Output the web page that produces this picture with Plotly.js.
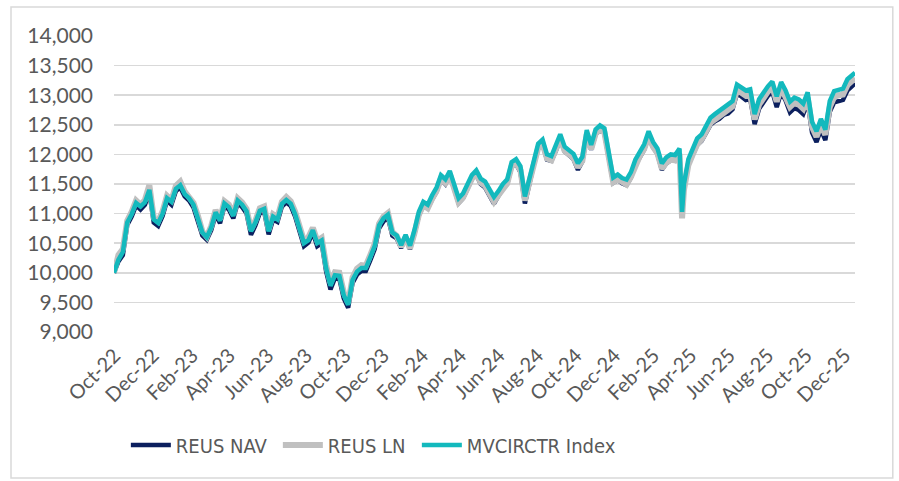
<!DOCTYPE html>
<html>
<head>
<meta charset="utf-8">
<script src="https://cdn.plot.ly/plotly-3.0.1.min.js"></script>
<style>
html,body{margin:0;padding:0;background:#fff;}
#chart{width:899px;height:481px;}
</style>
</head>
<body>
<div id="chart"></div>
<script>
var dates = [
"2022-09-30","2022-10-07","2022-10-14","2022-10-21","2022-10-28","2022-11-04","2022-11-11","2022-11-18","2022-11-25","2022-12-02",
"2022-12-09","2022-12-16","2022-12-23","2022-12-30","2023-01-06","2023-01-13","2023-01-20","2023-01-27","2023-02-03","2023-02-10",
"2023-02-17","2023-02-24","2023-03-03","2023-03-10","2023-03-17","2023-03-24","2023-03-31","2023-04-07","2023-04-14","2023-04-21",
"2023-04-28","2023-05-05","2023-05-12","2023-05-19","2023-05-26","2023-06-02","2023-06-09","2023-06-16","2023-06-23","2023-06-30",
"2023-07-07","2023-07-14","2023-07-21","2023-07-28","2023-08-04","2023-08-11","2023-08-18","2023-08-25","2023-09-01","2023-09-08",
"2023-09-15","2023-09-22","2023-09-29","2023-10-06","2023-10-13","2023-10-20","2023-10-27","2023-11-03","2023-11-10","2023-11-17",
"2023-11-24","2023-12-01","2023-12-08","2023-12-15","2023-12-22","2023-12-29","2024-01-05","2024-01-12","2024-01-19","2024-01-26",
"2024-02-02","2024-02-09","2024-02-16","2024-02-23","2024-03-01","2024-03-08","2024-03-15","2024-03-22","2024-03-29","2024-04-05",
"2024-04-12","2024-04-19","2024-04-26","2024-05-03","2024-05-10","2024-05-17","2024-05-24","2024-05-31","2024-06-07","2024-06-14",
"2024-06-21","2024-06-28","2024-07-05","2024-07-12","2024-07-19","2024-07-26","2024-08-02","2024-08-09","2024-08-16","2024-08-23",
"2024-08-30","2024-09-06","2024-09-13","2024-09-20","2024-09-27","2024-10-04","2024-10-11","2024-10-18","2024-10-25","2024-11-01",
"2024-11-08","2024-11-15","2024-11-22","2024-11-29","2024-12-06","2024-12-13","2024-12-20","2024-12-27","2025-01-03","2025-01-10",
"2025-01-17","2025-01-24","2025-01-31","2025-02-07","2025-02-14","2025-02-21","2025-02-28","2025-03-07","2025-03-14",
"2025-03-18",
"2025-03-21","2025-03-28","2025-04-04","2025-04-11","2025-04-18","2025-04-25","2025-05-02","2025-05-09","2025-05-16","2025-05-23",
"2025-05-30","2025-06-06","2025-06-13","2025-06-20","2025-06-27","2025-07-04","2025-07-11","2025-07-18","2025-07-25","2025-08-01",
"2025-08-08","2025-08-15","2025-08-22","2025-08-29","2025-09-05","2025-09-12","2025-09-19","2025-09-26","2025-10-03","2025-10-10",
"2025-10-17","2025-10-24","2025-10-31","2025-11-07","2025-11-14","2025-11-21","2025-11-28","2025-12-05","2025-12-12","2025-12-17"
];

var reusNav = [
10000,10190,10300,10810,10950,11140,11070,11150,11360,10850,
10790,10960,11220,11150,11380,11440,11290,11220,11100,10880,
10630,10560,10720,10980,10840,11130,11070,10920,11180,11110,
11000,10640,10800,11010,11030,10650,10900,10860,11120,11190,
11130,10950,10700,10450,10510,10680,10450,10500,10030,9720,
9910,9900,9570,9410,9830,9970,10030,10030,10210,10400,
10750,10870,10930,10630,10580,10420,10590,10400,10660,10970,
11130,11090,11240,11370,11580,11500,11650,11410,11180,11260,
11410,11580,11660,11500,11440,11300,11170,11300,11420,11500,
11790,11840,11700,11170,11520,11820,12100,12170,11910,11890,
12060,12260,12050,11980,11920,11740,11880,12330,12080,12340,
12410,12360,11910,11520,11570,11510,11480,11610,11820,11960,
12080,12300,12120,12010,11740,11850,11900,11890,12000,
10950,
11420,11830,12000,12160,12230,12360,12500,12560,12600,12670,
12690,12760,13030,12980,12920,12940,12510,12770,12890,12990,
13060,12800,13050,12910,12710,12780,12750,12680,12880,12370,
12210,12420,12240,12720,12880,12910,12920,13080,13140,13200
];

var reusLn = [
10000,10300,10400,10880,11030,11220,11150,11230,11480,10930,
10870,11040,11300,11230,11470,11540,11370,11290,11180,10960,
10700,10610,10790,11060,10910,11210,11150,10990,11260,11190,
11080,10730,10880,11090,11120,10730,10990,10940,11200,11280,
11210,11030,10780,10540,10600,10760,10540,10590,10130,9830,
10010,10000,9670,9490,9920,10070,10130,10120,10300,10490,
10830,10950,11010,10690,10620,10440,10600,10410,10670,10980,
11140,11090,11250,11380,11590,11520,11660,11420,11190,11270,
11420,11590,11670,11520,11470,11330,11200,11310,11430,11510,
11800,11850,11730,11220,11530,11830,12110,12180,11930,11900,
12070,12270,12060,11990,11940,11780,11890,12340,12090,12350,
12420,12370,11920,11530,11580,11520,11490,11620,11830,11970,
12090,12310,12130,12020,11760,11860,11910,11900,12010,
10920,
11400,11820,12000,12170,12250,12380,12530,12590,12640,12710,
12740,12810,13090,13040,12990,13010,12590,12840,12960,13060,
13140,12890,13130,12990,12800,12870,12840,12770,12960,12460,
12300,12510,12330,12800,12970,13000,13010,13170,13230,13290
];

var mvcirctr = [
10000,10220,10350,10850,10990,11180,11120,11190,11400,10900,
10840,11000,11260,11200,11420,11480,11330,11260,11150,10930,
10680,10600,10760,11020,10880,11170,11110,10960,11220,11150,
11040,10700,10850,11050,11080,10700,10950,10900,11165,11230,
11170,10990,10740,10500,10550,10720,10500,10546,10080,9780,
9960,9950,9620,9460,9880,10020,10080,10080,10260,10450,
10800,10920,10980,10680,10630,10470,10640,10460,10720,11030,
11200,11150,11310,11440,11650,11580,11720,11480,11260,11340,
11480,11650,11730,11590,11540,11400,11280,11380,11500,11580,
11870,11920,11800,11290,11600,11900,12180,12250,12000,11970,
12140,12340,12130,12060,12010,11850,11960,12410,12160,12420,
12490,12440,12000,11610,11660,11600,11575,11700,11910,12050,
12170,12390,12210,12100,11850,11950,12000,11990,12100,
11030,
11500,11920,12100,12270,12340,12470,12620,12680,12730,12800,
12830,12900,13180,13130,13080,13100,12680,12930,13050,13150,
13230,12980,13220,13080,12890,12960,12930,12860,13050,12550,
12390,12600,12420,12900,13070,13100,13110,13270,13330,13380
];

var seriesNames = ["REUS NAV", "REUS LN", "MVCIRCTR Index"];
var seriesColors = ["#0b1f5e", "#c0c0c0", "#13b9bd"];
var seriesWidths = [4.5, 6, 4.5];
var legendWidths = [97, 84, 220];
var seriesValues = [reusNav, reusLn, mvcirctr];

var traces = seriesValues.map(function (vals, i) {
  return {
    type: "scatter",
    mode: "lines",
    x: dates,
    y: vals,
    name: seriesNames[i],
    legendwidth: legendWidths[i],
    line: {color: seriesColors[i], width: seriesWidths[i], shape: "linear"},
    hoverinfo: "x+y+name"
  };
});

var tickFont = {family: "Lato, 'Open Sans', sans-serif", size: 21, color: "#595959"};

var layout = {
  width: 899,
  height: 481,
  margin: {l: 114, r: 44, t: 36, b: 149, pad: 0},
  paper_bgcolor: "#ffffff",
  plot_bgcolor: "#ffffff",
  showlegend: true,
  legend: {
    orientation: "h",
    x: 0.016,
    xanchor: "left",
    y: -0.382,
    yanchor: "middle",
    itemwidth: 40,
    font: {family: "'DejaVu Sans Condensed', 'DejaVu Sans', sans-serif", size: 20, color: "#595959", stretch: "condensed"},
    bgcolor: "rgba(0,0,0,0)",
    traceorder: "normal"
  },
  xaxis: {
    type: "date",
    range: ["2022-09-30", "2025-12-17"],
    tick0: "2022-10-01",
    dtick: "M2",
    tickformat: "%b-%y",
    tickangle: -45,
    tickfont: {family: "Lato, 'Open Sans', sans-serif", size: 20, color: "#595959"},
    ticklabelstandoff: 7,
    showgrid: false,
    zeroline: false,
    showline: false,
    ticks: "",
    fixedrange: true
  },
  yaxis: {
    range: [9000, 14000],
    dtick: 500,
    tick0: 9000,
    tickformat: ",d",
    tickfont: tickFont,
    showgrid: true,
    gridcolor: "#d9d9d9",
    gridwidth: 1.5,
    zeroline: false,
    showline: false,
    ticks: "",
    ticklabelstandoff: 20,
    fixedrange: true
  },
  shapes: [{
    type: "rect",
    xref: "paper", yref: "paper",
    x0: -0.139, x1: 1.051, y0: -0.493, y1: 1.098,
    line: {color: "#d9d9d9", width: 1.5},
    fillcolor: "rgba(0,0,0,0)",
    layer: "below"
  }]
};

Plotly.newPlot("chart", traces, layout, {displayModeBar: false, staticPlot: true});
</script>
</body>
</html>
